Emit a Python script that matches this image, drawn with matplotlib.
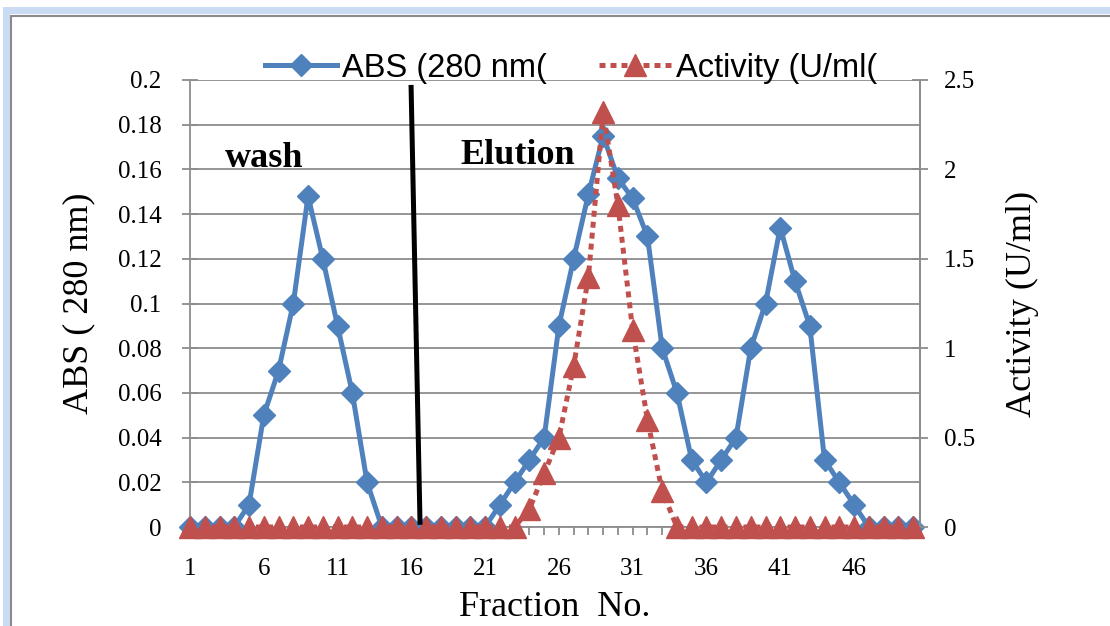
import matplotlib
matplotlib.use('Agg')
import matplotlib.pyplot as plt
from matplotlib.patches import Rectangle
import numpy as np

# fraction numbers 1..50
fractions = list(range(1, 51))

# absorbance at 280 nm
abs280 = [0, 0, 0, 0, 0.01, 0.05, 0.07, 0.10, 0.148, 0.12,
          0.09, 0.06, 0.02, 0, 0, 0, 0, 0, 0, 0,
          0, 0.01, 0.02, 0.03, 0.04, 0.09, 0.12, 0.149, 0.175, 0.156,
          0.147, 0.13, 0.08, 0.06, 0.03, 0.02, 0.03, 0.04, 0.08, 0.10,
          0.134, 0.11, 0.09, 0.03, 0.02, 0.01, 0, 0, 0, 0]

# enzyme activity (U/ml)
activity = [0] * 23 + [0.1, 0.3, 0.5, 0.9, 1.4, 2.32, 1.8,
                       1.1, 0.6, 0.2] + [0] * 17

xtick_labels = [1, 6, 11, 16, 21, 26, 31, 36, 41, 46]
abs_ticks = [0, 0.02, 0.04, 0.06, 0.08, 0.1, 0.12, 0.14, 0.16, 0.18, 0.2]
act_ticks = [0, 0.5, 1, 1.5, 2, 2.5]

# hand-drawn wash / elution divider (fraction, ABS)
divider_x = [15.98, 16.59]
divider_y = [0.1978, 0.001]

blue = '#4F81BD'
red = '#C0504D'
grid_gray = '#8c8c8c'
serif = ['Liberation Serif', 'DejaVu Serif']

fig = plt.figure(figsize=(11.1, 6.26), dpi=100)
ax = fig.add_axes([190 / 1110, 1 - 527 / 626, 730 / 1110, 447 / 626])
ax2 = ax.twinx()

# chart border with light blue glow
W, H = 1110, 626
fig.patches.append(Rectangle((6 / W, -0.1), 1.2, 1 - 10 / H + 0.1, transform=fig.transFigure,
                             fill=False, edgecolor='#c9dcf3', lw=5, zorder=0))
fig.patches.append(Rectangle((11 / W, -0.1), 1.2, 1 - 16 / H + 0.1, transform=fig.transFigure,
                             fill=False, edgecolor='#8a8a8a', lw=1.5, zorder=1))

l1, = ax.plot(fractions, abs280, color=blue, lw=3.6, marker='D', ms=11.5,
              label='ABS (280 nm(', zorder=3, clip_on=False)
l2, = ax2.plot(fractions, activity, color=red, lw=3.6, ls=(0, (1.2, 1.0)),
               dash_capstyle='butt', marker='^', ms=16, label='Activity (U/ml(',
               zorder=3, clip_on=False)
ax2.plot(divider_x, divider_y, color='black', lw=3.6, transform=ax.transData,
         solid_capstyle='butt', zorder=5)

ax.set_xlim(1, 50.47)
ax.set_ylim(0, 0.2)
ax2.set_ylim(0, 2.5)

ax.set_yticks(abs_ticks)
ax.set_yticklabels(['0', '0.02', '0.04', '0.06', '0.08', '0.1', '0.12', '0.14',
                    '0.16', '0.18', '0.2'])
ax2.set_yticks(act_ticks)
ax2.set_yticklabels(['0', '0.5', '1', '1.5', '2', '2.5'])
ax.set_xticks(fractions)
ax.set_xticklabels([str(f) if f in xtick_labels else '' for f in fractions])

ax.grid(axis='y', color=grid_gray, lw=1.3)
ax.set_axisbelow(True)

for a in (ax, ax2):
    for s in a.spines.values():
        s.set_color(grid_gray)
        s.set_linewidth(1.3)
    a.spines['top'].set_visible(False)
ax2.spines['left'].set_visible(False)
ax2.spines['bottom'].set_visible(False)

ax.tick_params(axis='y', direction='inout', length=11, width=1.3, color=grid_gray,
               pad=15, labelsize=18)
ax2.tick_params(axis='y', direction='inout', length=11, width=1.3, color=grid_gray,
                pad=12, labelsize=18)
ax.tick_params(axis='x', direction='out', length=6, width=1.3, color=grid_gray,
               pad=16, labelsize=18)
for lab in ax.get_xticklabels() + ax.get_yticklabels() + ax2.get_yticklabels():
    lab.set_family(serif)

ax.set_xlabel('Fraction  No.', family=serif, fontsize=26, labelpad=8)
ax.set_ylabel('ABS ( 280 nm)', family=serif, fontsize=26, labelpad=16)
ax2.set_ylabel('Activity (U/ml)', family=serif, fontsize=26, labelpad=22)

ax.text(3.37, 0.165, 'wash', family=serif, fontsize=26, fontweight='bold',
        ha='left', va='center')
ax.text(19.3, 0.1664, 'Elution', family=serif, fontsize=26, fontweight='bold',
        ha='left', va='center')

fig.legend(handles=[l1, l2], loc='center', bbox_to_anchor=(571 / W, 1 - 68 / H),
           ncol=2, frameon=False, handlelength=2.2, handletextpad=0.15,
           columnspacing=1.6, prop={'family': ['Liberation Sans', 'DejaVu Sans'], 'size': 23.5})

fig.savefig('out.png', dpi=100)
